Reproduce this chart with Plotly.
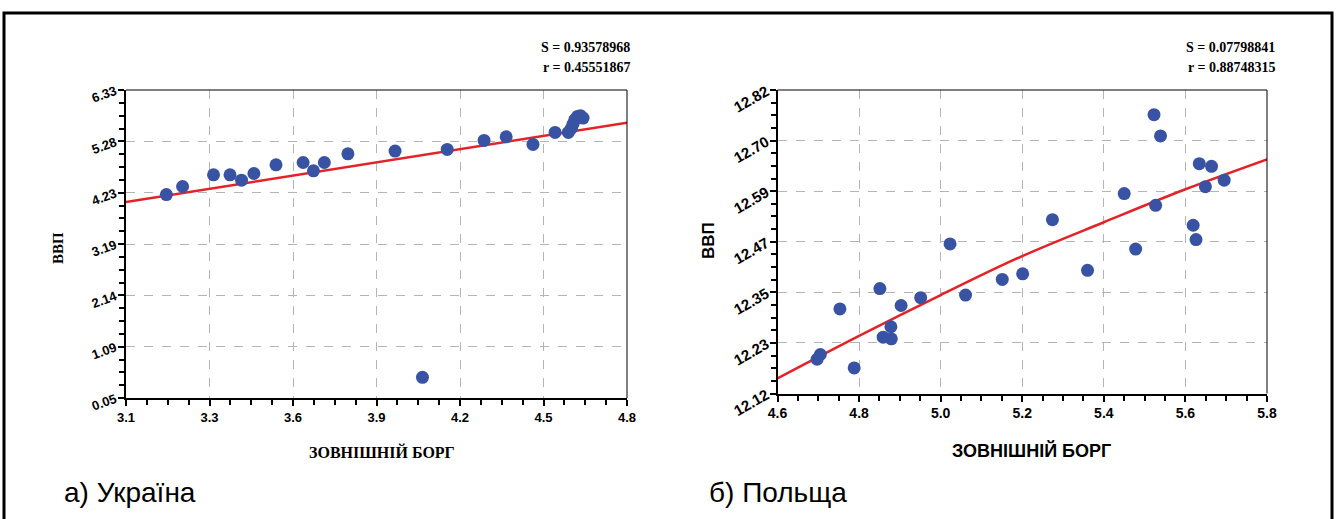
import numpy as np
import plotly.graph_objects as go

W, H = 1336, 519

# ---------------- data: Ukraine ----------------
ua_debt = [3.237, 3.292, 3.397, 3.453, 3.492, 3.534, 3.609, 3.701, 3.736, 3.773,
           3.853, 4.013, 4.106, 4.190, 4.315, 4.390, 4.481, 4.556, 4.601,
           4.611, 4.617, 4.623, 4.632, 4.642, 4.651]
ua_gdp = [4.198, 4.362, 4.600, 4.600, 4.491, 4.627, 4.804, 4.852, 4.682, 4.852,
          5.029, 5.084, 0.472, 5.118, 5.302, 5.376, 5.220, 5.465, 5.465,
          5.547, 5.636, 5.724, 5.792, 5.806, 5.758]
ua_fit_x = [3.1, 3.95, 4.8]
ua_fit_y = [4.047, 4.855, 5.662]
ua_xticks = ["3.1", "3.3", "3.6", "3.9", "4.2", "4.5", "4.8"]
ua_yticks = ["0.05", "1.09", "2.14", "3.19", "4.23", "5.28", "6.33"]
ua_xrange = [3.1, 4.8]
ua_yrange = [0.05, 6.33]
ua_stats = ["S = 0.93578968", "r = 0.45551867"]

# ---------------- data: Poland ----------------
pl_debt = [4.697, 4.705, 4.753, 4.788, 4.851, 4.859, 4.878, 4.879, 4.903, 4.951,
           5.023, 5.061, 5.151, 5.201, 5.274, 5.360, 5.450, 5.478, 5.523, 5.527,
           5.539, 5.619, 5.626, 5.634, 5.649, 5.664, 5.695]
pl_gdp = [12.199, 12.210, 12.315, 12.179, 12.362, 12.250, 12.274, 12.246, 12.323, 12.341,
          12.465, 12.347, 12.383, 12.396, 12.521, 12.404, 12.581, 12.453, 12.763, 12.554,
          12.714, 12.508, 12.475, 12.650, 12.597, 12.644, 12.612]
pl_fit_x = [4.6, 4.8, 5.0, 5.2, 5.4, 5.6, 5.8]
pl_fit_y = [12.155, 12.253, 12.347, 12.437, 12.515, 12.591, 12.660]
pl_xticks = ["4.6", "4.8", "5.0", "5.2", "5.4", "5.6", "5.8"]
pl_yticks = ["12.12", "12.23", "12.35", "12.47", "12.59", "12.70", "12.82"]
pl_xrange = [4.6, 5.8]
pl_yrange = [12.12, 12.82]
pl_stats = ["S = 0.07798841", "r = 0.88748315"]

x_title = "ЗОВНІШНІЙ БОРГ"
y_title = "ВВП"
captions = ["а) Україна", "б) Польща"]

DOT = "#3953a4"
RED = "#e62229"


def px(x):
    return x / W


def py(y):
    return 1 - y / H


fig = go.Figure()

fig.add_trace(go.Scatter(x=ua_fit_x, y=ua_fit_y, mode="lines",
                         line=dict(color=RED, width=2.5), xaxis="x", yaxis="y",
                         showlegend=False, hoverinfo="skip"))
fig.add_trace(go.Scatter(x=ua_debt, y=ua_gdp, mode="markers",
                         marker=dict(color=DOT, size=13, line=dict(width=0)),
                         xaxis="x", yaxis="y", showlegend=False))
fig.add_trace(go.Scatter(x=pl_fit_x, y=pl_fit_y, mode="lines",
                         line=dict(color=RED, width=2.5, shape="spline"),
                         xaxis="x2", yaxis="y2", showlegend=False, hoverinfo="skip"))
fig.add_trace(go.Scatter(x=pl_debt, y=pl_gdp, mode="markers",
                         marker=dict(color=DOT, size=13, line=dict(width=0)),
                         xaxis="x2", yaxis="y2", showlegend=False))

grid = dict(showgrid=True, gridcolor="#b4b4b4", griddash="dash", gridwidth=1,
            zeroline=False, showline=True, linecolor="black", linewidth=2,
            ticks="outside", ticklen=6, tickcolor="black", tickwidth=1.5,
            fixedrange=True, automargin=False)


def axis(rng, labels, domain, anchor, minor_div, font, angle=0, **kw):
    vals = list(np.linspace(rng[0], rng[1], len(labels)))
    step = (rng[1] - rng[0]) / (len(labels) - 1) / minor_div
    d = dict(grid)
    d.update(range=rng, tickmode="array", tickvals=vals, ticktext=labels,
             domain=domain, anchor=anchor, tickfont=font, tickangle=angle,
             minor=dict(ticks="outside", ticklen=5, tick0=rng[0], dtick=step,
                        tickcolor="black", tickwidth=1.5, showgrid=False))
    d.update(kw)
    return d


ua_tick_font_x = dict(family="Liberation Sans Narrow, Liberation Sans, Arial", size=13,
                      color="black", weight="bold")
ua_tick_font_y = dict(family="Liberation Sans, Arial", size=13, color="black", weight="bold")
pl_tick_font_x = dict(family="Liberation Sans, Arial", size=14, color="black", weight="bold")
pl_tick_font_y = dict(family="Liberation Sans, Arial", size=15, color="black", weight="bold")

L = dict(x0=126, x1=627, y0=90, y1=398)
R = dict(x0=777.5, x1=1267, y0=90, y1=393.5)

fig.update_layout(
    width=W, height=H,
    margin=dict(l=0, r=0, t=0, b=0, pad=0, autoexpand=False),
    paper_bgcolor="white", plot_bgcolor="white",
    xaxis=axis(ua_xrange, ua_xticks, [px(L["x0"]), px(L["x1"])], "y", 4, ua_tick_font_x),
    yaxis=axis(ua_yrange, ua_yticks, [py(L["y1"]), py(L["y0"])], "x", 4, ua_tick_font_y,
               angle=-20),
    xaxis2=axis(pl_xrange, pl_xticks, [px(R["x0"]), px(R["x1"])], "y2", 4, pl_tick_font_x),
    yaxis2=axis(pl_yrange, pl_yticks, [py(R["y1"]), py(R["y0"])], "x2", 4, pl_tick_font_y,
                angle=-30),
)

shapes = []
for b in (L, R):
    shapes.append(dict(type="line", xref="paper", yref="paper",
                       x0=px(b["x0"]), x1=px(b["x1"]), y0=py(b["y0"]), y1=py(b["y0"]),
                       line=dict(color="black", width=1)))
    shapes.append(dict(type="line", xref="paper", yref="paper",
                       x0=px(b["x1"]), x1=px(b["x1"]), y0=py(b["y0"]), y1=py(b["y1"]),
                       line=dict(color="black", width=1)))
shapes.append(dict(type="rect", xref="paper", yref="paper",
                   x0=px(4), x1=px(1332), y0=py(525), y1=py(13),
                   line=dict(color="black", width=3), fillcolor="rgba(0,0,0,0)"))
fig.update_layout(shapes=shapes)

serif_b = dict(family="Liberation Serif, Times New Roman", color="black", weight="bold")
sans_b = dict(family="Liberation Sans, Arial", color="black", weight="bold")


def note(text, x, y, font, xanchor="center", angle=0):
    return dict(text=text, x=px(x), y=py(y), xref="paper", yref="paper",
                xanchor=xanchor, yanchor="middle", textangle=angle,
                showarrow=False, font=font)


ann = []
for i, t in enumerate(ua_stats):
    ann.append(note(t, 632, 47 + i * 20, dict(size=14, **serif_b), xanchor="right"))
for i, t in enumerate(pl_stats):
    ann.append(note(t, 1277, 47 + i * 20, dict(size=14, **serif_b), xanchor="right"))
ann.append(note(y_title, 58, 248, dict(size=15, **serif_b), angle=-90))
ann.append(note(x_title, 382, 452, dict(size=16, **serif_b)))
ann.append(note(y_title, 708, 241, dict(size=17, **sans_b), angle=-90))
ann.append(note(x_title, 1031, 450, dict(size=18, **sans_b)))
cap_font = dict(size=28, family="Liberation Sans, Arial", color="black")
ann.append(note(captions[0], 62, 492, cap_font, xanchor="left"))
ann.append(note(captions[1], 707, 492, cap_font, xanchor="left"))
fig.update_layout(annotations=ann)

fig.write_html("out.html")
